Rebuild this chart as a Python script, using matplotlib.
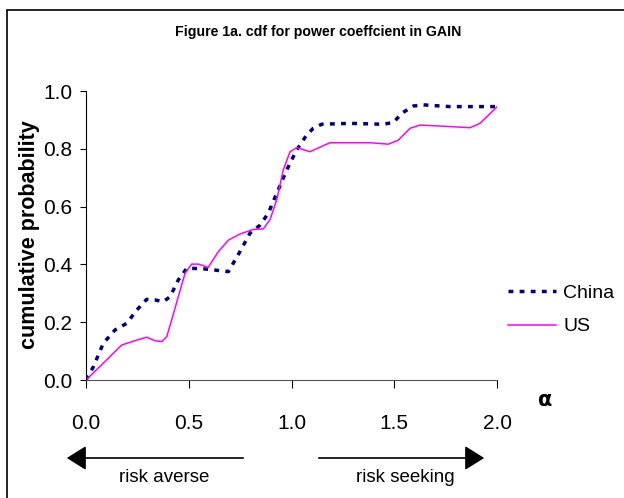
import matplotlib.pyplot as plt
from matplotlib.patches import Rectangle, FancyArrowPatch

plt.rcParams['font.family'] = ['Liberation Sans', 'DejaVu Sans']

# data
china_x = [0.0, 0.036, 0.084, 0.141, 0.198, 0.247, 0.295, 0.336, 0.376, 0.409, 0.449, 0.49,
           0.555, 0.62, 0.693, 0.749, 0.798, 0.847, 0.887, 0.928, 0.977, 1.025, 1.074, 1.106,
           1.147, 1.285, 1.447, 1.495, 1.541, 1.593, 1.641, 1.771, 2.0]
china_y = [0.0, 0.046, 0.127, 0.173, 0.196, 0.242, 0.279, 0.277, 0.271, 0.288, 0.346, 0.386,
           0.386, 0.381, 0.375, 0.444, 0.508, 0.536, 0.577, 0.646, 0.727, 0.796, 0.848, 0.871,
           0.885, 0.888, 0.885, 0.891, 0.925, 0.948, 0.952, 0.946, 0.946]

us_x = [0.0, 0.084, 0.174, 0.238, 0.295, 0.336, 0.368, 0.393, 0.417, 0.449, 0.482, 0.514,
        0.547, 0.595, 0.644, 0.693, 0.749, 0.814, 0.863, 0.895, 0.928, 0.96, 0.993, 1.025,
        1.09, 1.187, 1.382, 1.471, 1.52, 1.577, 1.625, 1.771, 1.869, 1.917, 2.0]
us_y = [0.0, 0.058, 0.121, 0.136, 0.148, 0.136, 0.133, 0.15, 0.208, 0.288, 0.369, 0.401,
        0.401, 0.39, 0.444, 0.484, 0.505, 0.521, 0.523, 0.554, 0.623, 0.727, 0.79, 0.804,
        0.79, 0.821, 0.821, 0.816, 0.83, 0.871, 0.882, 0.877, 0.873, 0.888, 0.945]

xticks = [0.0, 0.5, 1.0, 1.5, 2.0]
yticks = [0.0, 0.2, 0.4, 0.6, 0.8, 1.0]

fig = plt.figure(figsize=(6.24, 4.98), dpi=100)
ax = fig.add_axes([86/624, 1-380/498, (497-86)/624, (380-91)/498])

ax.plot(china_x, china_y, color='#000080', lw=2.5, linestyle=(0, (1.4, 1.8)), label='China')
ax.plot(us_x, us_y, color='#FF00FF', lw=1.1, label='US')

ax.set_xlim(0, 2.0)
ax.set_ylim(0, 1.0)
ax.set_xticks(xticks)
ax.set_xticklabels(['%.1f' % t for t in xticks])
ax.set_yticks(yticks)
ax.set_yticklabels(['%.1f' % t for t in yticks])
ax.tick_params(axis='y', direction='out', length=4.3, width=0.8, pad=5.5, labelsize=15)
ax.tick_params(axis='x', direction='out', length=5.5, width=0.8, pad=19, labelsize=15)
ax.spines['top'].set_visible(False)
ax.spines['right'].set_visible(False)
ax.spines['left'].set_linewidth(0.8)
ax.spines['bottom'].set_linewidth(0.8)
ax.spines['bottom'].set_color('#555555')

fig.text(30/624, 1-235/498, 'cumulative probability', rotation=90, ha='center', va='center',
         fontsize=15.5, fontweight='bold')

fig.text(318/624, 1-32/498, 'Figure 1a. cdf for power coeffcient in GAIN', ha='center', va='center',
         fontsize=10.2, fontweight='bold')
fig.text(545/624, 1-400/498, 'α', ha='center', va='center', fontsize=15, fontweight='bold',
         family='DejaVu Sans')

# legend placed by hand like the original
ax.legend(loc='center left', bbox_to_anchor=((498-86)/411, 1-(310-91)/289), frameon=False,
          fontsize=14, handlelength=2.5, handletextpad=0.35, labelspacing=0.8, borderpad=0)

# risk arrows under the axis
for x0, x1 in [(246, 64), (316, 487)]:
    fig.patches.append(FancyArrowPatch(
        (x0/624, 1-458/498), (x1/624, 1-458/498), transform=fig.transFigure,
        arrowstyle='-|>,head_length=8,head_width=5', color='black', lw=1.2, mutation_scale=1.5))
fig.text(164/624, 1-478/498, 'risk averse', ha='center', va='center', fontsize=13.5)
fig.text(405/624, 1-478/498, 'risk seeking', ha='center', va='center', fontsize=13.5)

# outer frame
fig.patches.append(Rectangle((7/624, -0.2), 1.2, 1.18, transform=fig.transFigure,
                             fill=False, edgecolor='black', lw=1.2))

fig.savefig('out.png', dpi=100)
